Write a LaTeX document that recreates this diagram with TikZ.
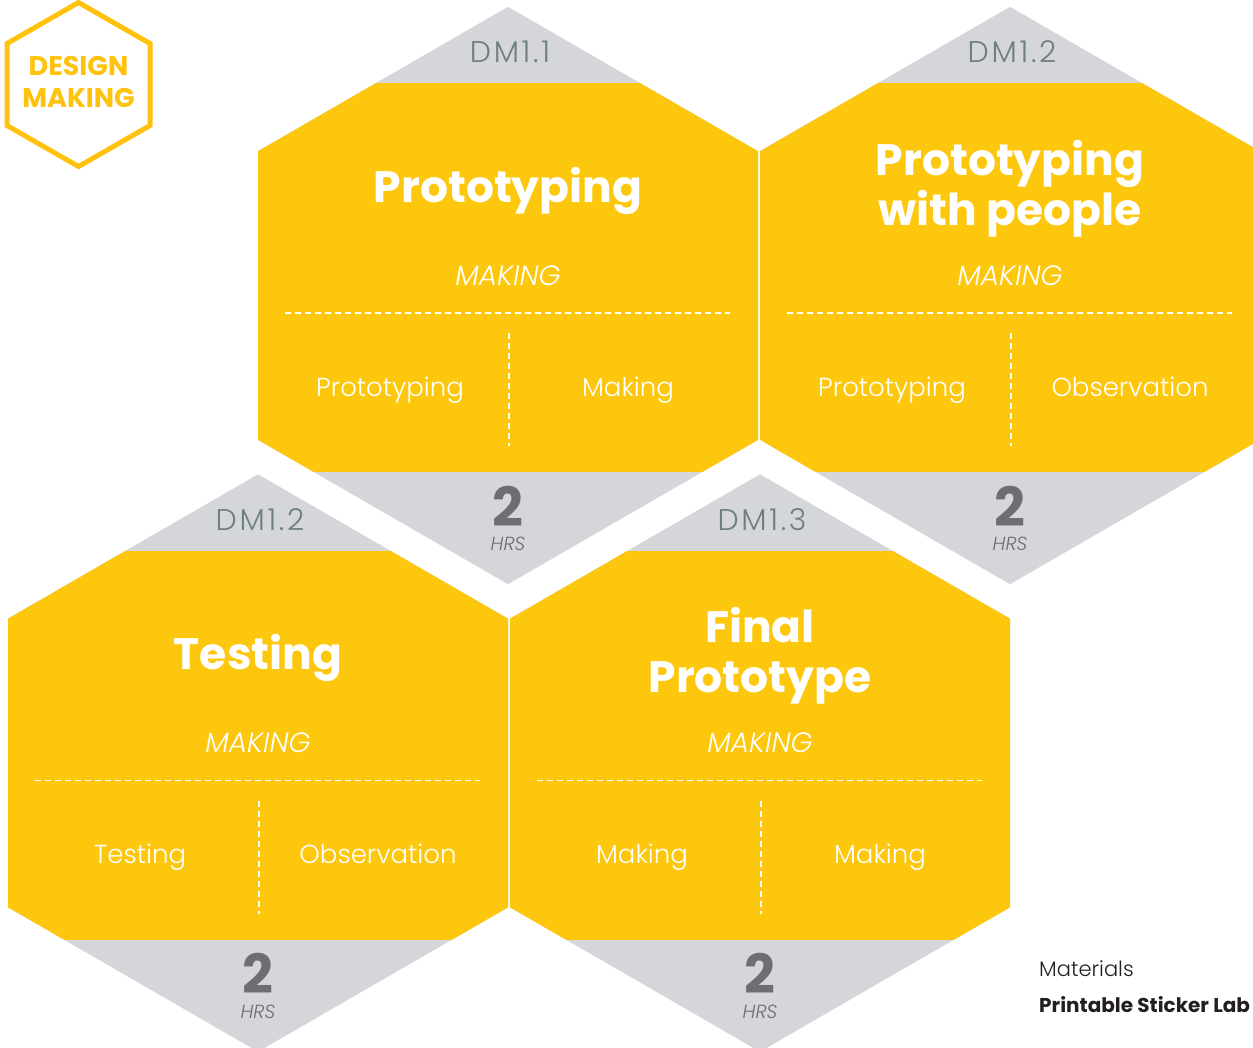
\documentclass[tikz,border=0pt]{standalone}
\usepackage{fontspec}
\setmainfont{Poppins}
\newfontfamily\plight{Poppins Light}
\newfontfamily\plightspaced{Poppins Light}[LetterSpace=9]
\definecolor{hexyellow}{HTML}{FDC70D}
\definecolor{capgray}{HTML}{D5D6D9}
\definecolor{dmgray}{HTML}{6E7E85}
\definecolor{hrsgray}{HTML}{6D6E72}
\definecolor{logoyellow}{HTML}{FFC20E}
\definecolor{inktext}{HTML}{231F20}
\tikzset{
  dmlabel/.style={anchor=base, text=dmgray, font=\plightspaced\fontsize{30}{30}\selectfont, inner sep=0pt},
  titlelabel/.style={anchor=base, text=white, font=\bfseries\fontsize{44}{44}\selectfont, inner sep=0pt},
  catlabel/.style={anchor=base, text=white, font=\plight\itshape\fontsize{28}{28}\selectfont, inner sep=0pt},
  toplabel/.style={anchor=base, text=white, font=\plight\fontsize{26}{26}\selectfont, inner sep=0pt},
  hrsnum/.style={anchor=base, text=hrsgray, font=\bfseries\fontsize{54}{54}\selectfont, inner sep=0pt},
  hrslabel/.style={anchor=base, text=hrsgray, font=\plight\itshape\fontsize{19}{19}\selectfont, inner sep=0pt},
  divider/.style={white, line width=1.5pt, dash pattern=on 6pt off 4pt},
  logotext/.style={anchor=base, text=logoyellow, font=\bfseries\fontsize{27}{27}\selectfont, inner sep=0pt},
  mattext/.style={anchor=base west, text=inktext, inner sep=0pt},
}
\newcommand\hexcard[6]{%
  \begin{scope}[shift={(#2,#3)}]
    \fill[capgray] (0,-288.7) -- (250,-144.35) -- (250,144.35) -- (0,288.7) -- (-250,144.35) -- (-250,-144.35) -- cycle;
    \begin{scope}
      \clip (0,-288.7) -- (250,-144.35) -- (250,144.35) -- (0,288.7) -- (-250,144.35) -- (-250,-144.35) -- cycle;
      \fill[hexyellow] (-255,-212.5) rectangle (255,176.5);
    \end{scope}
    \node[dmlabel] (#1-dm) at (2,-232.8) {#4};
    \node[catlabel] (#1-cat) at (0,-10.5) {MAKING};
    \coordinate (#1-hl) at (-223,17.5);
    \coordinate (#1-hr) at (222,17.5);
    \draw[divider] (#1-hl) -- (#1-hr);
    \coordinate (#1-vt) at (1,37.8);
    \coordinate (#1-vb) at (1,150.5);
    \draw[divider] (#1-vt) -- (#1-vb);
    \node[toplabel] (#1-left) at (-118,100.5) {#5};
    \node[toplabel] (#1-right) at (120,100.5) {#6};
    \node[hrsnum] (#1-num) at (0,230.5) {2};
    \node[hrslabel] (#1-hrs) at (0,255) {HRS};
  \end{scope}}
\begin{document}
\begin{tikzpicture}[x=1pt,y=-1pt]
  \useasboundingbox (0,0) rectangle (1253,1047);
  \clip (0,0) rectangle (1253,1047);
  % logo
  \draw[logoyellow, line width=5pt, line join=miter]
    (78.5,2.5) -- (150,43.5) -- (150,125.5) -- (78.5,166.5) -- (7,125.5) -- (7,43.5) -- cycle;
  \node[logotext] (logo1) at (78.5,75) {DESIGN};
  \node[logotext] (logo2) at (78.5,107) {MAKING};
  % cards
  \hexcard{c1}{508}{295.5}{DM1.1}{Prototyping}{Making}
  \hexcard{c2}{1010}{295.5}{DM1.2}{Prototyping}{Observation}
  \hexcard{c3}{258}{763}{DM1.2}{Testing}{Observation}
  \hexcard{c4}{760}{763}{DM1.3}{Making}{Making}
  % titles
  \node[titlelabel] (c1-title) at (508,202) {Prototyping};
  \node[titlelabel] (c2-title1) at (1010,175) {Prototyping};
  \node[titlelabel] (c2-title2) at (1010,225) {with people};
  \node[titlelabel] (c3-title) at (258,669.5) {Testing};
  \node[titlelabel] (c4-title1) at (760,642.5) {Final};
  \node[titlelabel] (c4-title2) at (760,692.5) {Prototype};
  % materials
  \node[mattext, font=\plight\fontsize{21}{21}\selectfont] (mat) at (1039,976.7) {Materials};
  \node[mattext, font=\bfseries\fontsize{20}{20}\selectfont] (matname) at (1039,1012.7) {Printable Sticker Lab};
\end{tikzpicture}
\end{document}
